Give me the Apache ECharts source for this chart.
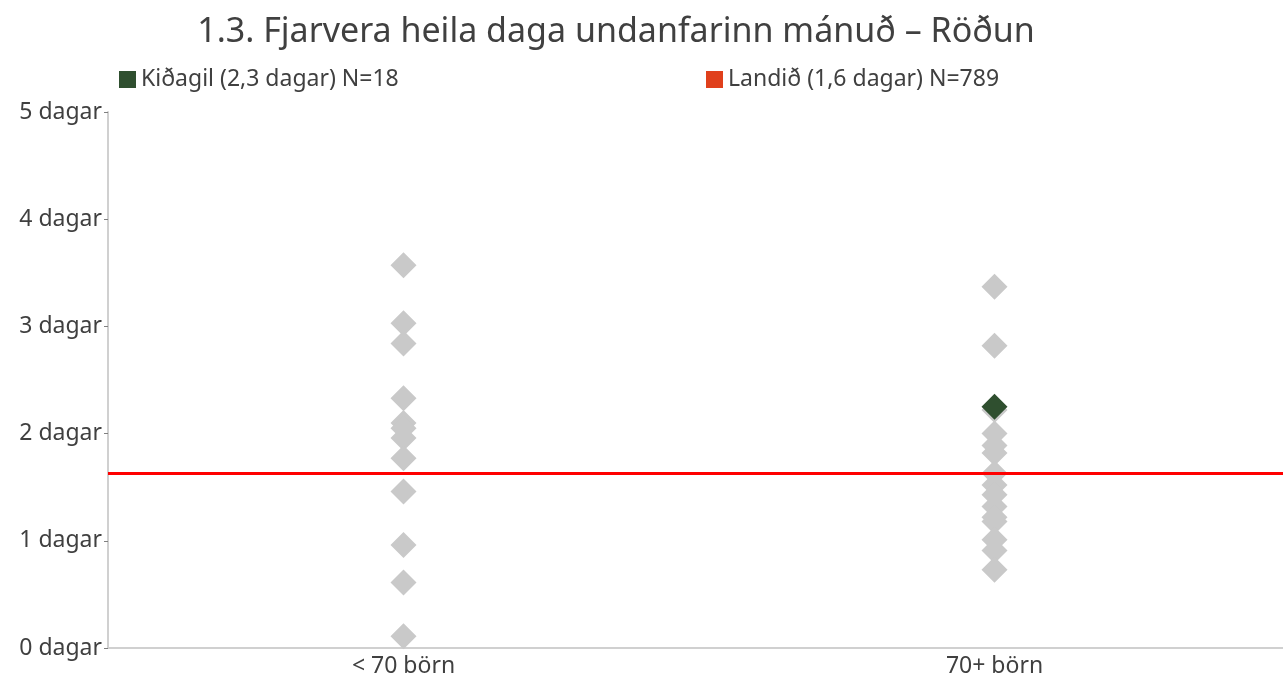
<!DOCTYPE html>
<html>
<head>
<meta charset="utf-8">
<script src="https://cdn.jsdelivr.net/npm/echarts@6/dist/echarts.min.js"></script>
<style>
html, body { margin: 0; padding: 0; background: #fff; }
#chart { width: 1283px; height: 678px; }
</style>
</head>
<body>
<div id="chart"></div>
<script>
var categories = ['< 70 börn', '70+ börn']
var otherUnder70 = [3.57, 3.03, 2.84, 2.33, 2.10, 2.05, 1.96, 1.77, 1.46, 0.96, 0.61, 0.11]
var other70plus = [3.37, 2.82, 2.22, 2.00, 1.89, 1.82, 1.63, 1.52, 1.43, 1.32, 1.22, 1.18, 1.01, 0.91, 0.73]
var kidagilValue = [null, 2.25]
var landidValue = 1.63
var kidagilName = 'Kiðagil (2,3 dagar) N=18'
var landidName = 'Landið (1,6 dagar) N=789'

var greyPoints = []
for (var v of otherUnder70) greyPoints.push([categories[0], v])
for (var w of other70plus) greyPoints.push([categories[1], w])
var greenPoints = []
kidagilValue.forEach(function (val, i) {
  if (val !== null) greenPoints.push([categories[i], val])
})

var font = '"Noto Sans", "Open Sans", sans-serif'
var chart = echarts.init(document.getElementById('chart'))
chart.setOption({
  animation: false,
  textStyle: { fontFamily: font },
  title: {
    text: '1.3. Fjarvera heila daga undanfarinn mánuð – Röðun',
    left: 611,
    textAlign: 'center',
    top: 10,
    textStyle: { fontFamily: font, fontSize: 34, fontWeight: 'normal', color: '#404040' }
  },
  legend: [{
    left: 114,
    top: 63,
    itemWidth: 17,
    itemHeight: 17,
    itemGap: 6,
    textStyle: { fontFamily: font, fontSize: 23, color: '#404040' },
    data: [{ name: kidagilName, icon: 'rect', itemStyle: { color: '#2f4f2f' } }]
  }, {
    left: 701,
    top: 63,
    itemWidth: 17,
    itemHeight: 17,
    textStyle: { fontFamily: font, fontSize: 23, color: '#404040' },
    data: [{ name: landidName, icon: 'rect', itemStyle: { color: '#e0401c' } }]
  }],
  // category centres sit at ~404 and ~995 px, so the grid runs a bit past the right edge
  grid: { left: 108, top: 112, width: 1182, height: 536, outerBoundsMode: 'none' },
  xAxis: {
    type: 'category',
    data: categories,
    axisLine: { lineStyle: { color: '#d0d0d0', width: 2 } },
    axisTick: { show: false },
    axisLabel: { fontSize: 23, color: '#404040', margin: 7 }
  },
  yAxis: {
    type: 'value',
    min: 0,
    max: 5,
    interval: 1,
    splitLine: { show: false },
    axisLine: { show: true, lineStyle: { color: '#d0d0d0', width: 2 } },
    axisTick: { show: true, length: 4, lineStyle: { color: '#808080' } },
    axisLabel: { fontSize: 23, color: '#404040', margin: 6, formatter: '{value} dagar' }
  },
  series: [{
    name: 'Aðrir',
    type: 'scatter',
    symbol: 'diamond',
    symbolSize: 26,
    itemStyle: { color: '#c9c9c9', opacity: 1 },
    data: greyPoints,
    z: 2
  }, {
    name: landidName,
    type: 'line',
    data: [],
    itemStyle: { color: '#e0401c' },
    markLine: {
      silent: true,
      symbol: 'none',
      label: { show: false },
      lineStyle: { color: '#ff0000', width: 3, type: 'solid' },
      data: [{ yAxis: landidValue }]
    },
    z: 3
  }, {
    name: kidagilName,
    type: 'scatter',
    symbol: 'diamond',
    symbolSize: 26,
    itemStyle: { color: '#2f4f2f', opacity: 1 },
    data: greenPoints,
    z: 4
  }]
})
</script>
</body>
</html>
